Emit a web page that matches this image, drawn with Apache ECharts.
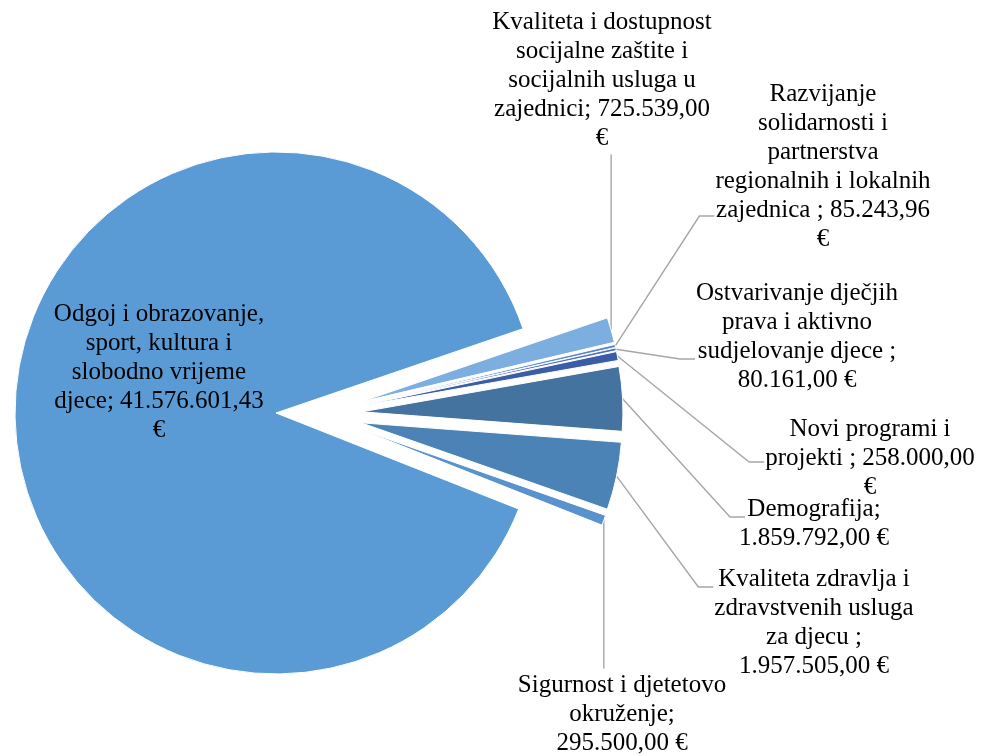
<!DOCTYPE html>
<html><head><meta charset="utf-8">
<script src="https://cdn.jsdelivr.net/npm/echarts@6/dist/echarts.min.js"></script>
<style>html,body{margin:0;padding:0;background:#fff}#c{width:981px;height:756px}</style>
</head><body><div id="c"></div>
<script>
// ---- data ----
const categories = [
  "Odgoj i obrazovanje,\nsport, kultura i\nslobodno vrijeme\ndjece",
  "Kvaliteta i dostupnost\nsocijalne zaštite i\nsocijalnih usluga u\nzajednici",
  "Razvijanje\nsolidarnosti i\npartnerstva\nregionalnih i lokalnih\nzajednica ",
  "Ostvarivanje dječjih\nprava i aktivno\nsudjelovanje djece ",
  "Novi programi i\nprojekti ",
  "Demografija",
  "Kvaliteta zdravlja i\nzdravstvenih usluga\nza djecu ",
  "Sigurnost i djetetovo\nokruženje"
];
const values = [41576601.43, 725539.00, 85243.96, 80161.00, 258000.00, 1859792.00, 1957505.00, 295500.00];
const currency = "€";

// ---- text layout (line breaks between name / value / currency) ----
const nameSep = ["; ", "; ", "; ", ";\n", "; ", ";\n", ";\n", ";\n"];
const curSep  = ["\n", "\n", "\n", " ", "\n", " ", " ", " "];

// ---- styles / layout ----
const colors = ["#5B9BD5", "#7CAFDF", "#5A86C9", "#4A72B8", "#3A5DA6", "#44739F", "#4C83B7", "#5893CD"];
const labelPos = [[159,372],[602,80],[823,167],[797,337],[870,458],[814,524],[814,623],[622,714]];
// where the leader line meets the label: side, vertical offset from label middle, horizontal inset
const lineAnchor = [null, ['bottom', 0, 0], ['left', 49, 0], ['left', 22, 0], ['left', 4, 0], ['left', -7, 7], ['left', -36, 0], ['top', 0, 0]];
const stubLen = 15;
const pieCenter = [319, 414];
const pieRadius = 261;
const explode = 43;
const startAngle = -21.6;

function fmt(v){
  const parts = v.toFixed(2).split('.');
  return parts[0].replace(/\B(?=(\d{3})+(?!\d))/g, '.') + ',' + parts[1];
}

const total = values.reduce((a, b) => a + b, 0);
let cum = 0;
const series = values.map((v, i) => {
  const mid = (startAngle - 360 * (cum + v / 2) / total) * Math.PI / 180;
  cum += v;
  const center = [pieCenter[0] + explode * Math.cos(mid), pieCenter[1] - explode * Math.sin(mid)];
  const data = values.map((w, j) => {
    if (j !== i) {
      return { value: w, name: categories[j], itemStyle: { color: 'rgba(0,0,0,0)', borderWidth: 0 },
               label: { show: false }, labelLine: { show: false } };
    }
    const d = { value: w, name: categories[j], itemStyle: { color: colors[j] } };
    if (j === 0) { d.label = { position: 'inside' }; d.labelLine = { show: false }; }
    return d;
  });
  return {
    type: 'pie',
    silent: true,
    center: center,
    radius: pieRadius,
    startAngle: startAngle,
    clockwise: true,
    avoidLabelOverlap: false,
    itemStyle: { borderColor: '#ffffff', borderWidth: 1 },
    label: {
      show: true,
      position: 'outside',
      formatter: p => p.name + nameSep[p.dataIndex] + fmt(p.value) + curSep[p.dataIndex] + currency,
      fontFamily: '"Liberation Serif", "Times New Roman", serif',
      fontSize: 25,
      lineHeight: 29,
      color: '#000000',
      align: 'center'
    },
    labelLine: { show: true, length: 10, length2: 12, lineStyle: { color: '#A6A6A6', width: 1.4 } },
    labelLayout: params => {
      const k = params.dataIndex;
      const x = labelPos[k][0], y = labelPos[k][1];
      const res = { x: x, y: y, align: 'center', verticalAlign: 'middle' };
      const a = lineAnchor[k];
      if (a && params.labelLinePoints && params.labelLinePoints.length) {
        const p0 = params.labelLinePoints[0];
        const w = params.labelRect.width, h = params.labelRect.height;
        if (a[0] === 'bottom') {
          res.labelLinePoints = [[p0[0], p0[1]], [p0[0], y + h / 2 + 2]];
        } else if (a[0] === 'top') {
          res.labelLinePoints = [[p0[0], p0[1]], [p0[0], y - h / 2 - 2]];
        } else {
          const ax = x - w / 2 - 1 + a[2], ay = y + a[1];
          res.labelLinePoints = [[p0[0], p0[1]], [ax - stubLen, ay], [ax, ay]];
        }
      }
      return res;
    },
    emphasis: { disabled: true },
    data: data
  };
});

const chart = echarts.init(document.getElementById('c'), null, {renderer:'canvas'});
chart.setOption({ animation: false, series: series });
</script></body></html>
